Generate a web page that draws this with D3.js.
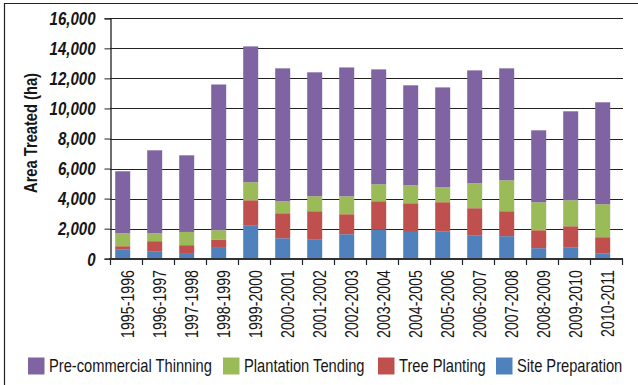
<!DOCTYPE html>
<html><head><meta charset="utf-8">
<script src="https://cdn.jsdelivr.net/npm/d3@7"></script>
<style>
html,body{margin:0;padding:0;background:#fff;}
svg{display:block;}
text{font-family:"Liberation Sans",Arial,sans-serif;fill:#161616;}
</style></head>
<body>
<script>
const categories = ["1995-1996","1996-1997","1997-1998","1998-1999","1999-2000","2000-2001","2001-2002","2002-2003","2003-2004","2004-2005","2005-2006","2006-2007","2007-2008","2008-2009","2009-2010","2010-2011"];
const sitePreparation = [630,500,320,720,2230,1360,1300,1630,1960,1780,1830,1565,1500,700,765,365];
const treePlanting    = [200,665,580,530,1660,1665,1860,1330,1865,1910,1930,1795,1660,1195,1395,1065];
const plantationTending = [865,530,880,645,1200,795,1000,1195,1130,1200,995,1660,2060,1865,1730,2195];
const precommercialThinning = [4125,5520,5100,9700,9040,8850,8245,8575,7645,6650,6645,7515,7450,4785,5920,6785];
const yTicks = [0,2000,4000,6000,8000,10000,12000,14000,16000];
const seriesNames = ["Site Preparation","Tree Planting","Plantation Tending","Pre-commercial Thinning"];
const seriesColors = ["#4F81BD","#C0504D","#9BBB59","#8064A2"];
const legendOrder = ["Pre-commercial Thinning","Plantation Tending","Tree Planting","Site Preparation"];

const W=638,H=385;
const svg=d3.select("body").append("svg").attr("width",W).attr("height",H);

// frame border (top and left visible)
svg.append("line").attr("x1",4).attr("x2",W).attr("y1",3.5).attr("y2",3.5).attr("stroke","#222").attr("stroke-width",1.2);
svg.append("line").attr("x1",4.5).attr("x2",4.5).attr("y1",3).attr("y2",H).attr("stroke","#222").attr("stroke-width",1.2);

const x=d3.scaleBand().domain(categories).range([110,622]).padding(0);
const y=d3.scaleLinear().domain([0,16000]).range([258.7,18.3]);

function measure(sample,size,weight,style){
  const t=svg.append("text").attr("font-size",size).attr("font-weight",weight).attr("font-style",style).text(sample);
  const L=t.node().getComputedTextLength(); t.remove(); return L;
}

// gridlines
svg.append("g").selectAll("line").data(yTicks.filter(d=>d>0)).join("line")
  .attr("x1",110).attr("x2",623).attr("y1",d=>Math.round(y(d))+0.5).attr("y2",d=>Math.round(y(d))+0.5)
  .attr("stroke","#222").attr("stroke-width",1);

// stacked bars
const table=categories.map((c,i)=>({cat:c,"Site Preparation":sitePreparation[i],"Tree Planting":treePlanting[i],"Plantation Tending":plantationTending[i],"Pre-commercial Thinning":precommercialThinning[i]}));
const stack=d3.stack().keys(seriesNames)(table);
const bw=15;
svg.append("g").selectAll("g").data(stack).join("g").attr("fill",(d,i)=>seriesColors[i])
  .selectAll("rect").data(d=>d).join("rect")
  .attr("x",d=>x(d.data.cat)+5.2).attr("width",bw)
  .attr("y",d=>y(d[1])).attr("height",d=>y(d[0])-y(d[1]));

// y axis
const yAxis=d3.axisLeft(y).tickValues(yTicks).tickSize(6).tickPadding(8).tickFormat(d3.format(","));
const gy=svg.append("g").attr("transform","translate(110.5,0)").call(yAxis);
gy.select(".domain").attr("stroke","#222").attr("stroke-width",1.3);
gy.selectAll(".tick line").attr("stroke","#222");
const ky=46/measure("16,000",17.5,"bold","italic");
gy.selectAll(".tick text").attr("font-size",17.5).attr("font-weight","bold").attr("font-style","italic")
  .attr("fill","#111").attr("dy","0.36em").attr("x",0)
  .attr("transform",`translate(-15,0) scale(${ky},1)`);

// x axis
const xAxis=d3.axisBottom(x).tickSize(0).tickFormat(d=>d);
const gx=svg.append("g").attr("transform","translate(0,259)").call(xAxis);
gx.select(".domain").remove();
svg.append("line").attr("x1",109).attr("x2",623).attr("y1",259).attr("y2",259).attr("stroke","#333").attr("stroke-width",2);
svg.append("g").selectAll("line").data(d3.range(categories.length+1)).join("line")
  .attr("x1",i=>110+i*x.step()+0.5).attr("x2",i=>110+i*x.step()+0.5).attr("y1",259).attr("y2",265)
  .attr("stroke","#222").attr("stroke-width",1.2);
const kx=68/measure("1995-1996",18.5,"normal","normal");
gx.selectAll(".tick text").attr("font-size",18.5)
  .attr("text-anchor","end").attr("x",0).attr("y",0).attr("dy","0.35em")
  .attr("transform",`rotate(-90) translate(-11,0) scale(${kx},1)`)
  .attr("fill","#111");
gx.selectAll(".tick").attr("transform",d=>`translate(${x(d)+x.bandwidth()/2+2},0)`);

// y title
const kt=120/measure("Area Treated (ha)",17.5,"bold","normal");
svg.append("text").attr("transform",`translate(37,133) rotate(-90) scale(${kt},1)`).attr("text-anchor","middle")
  .attr("font-size",17.5).attr("font-weight","bold").attr("fill","#111")
  .text("Area Treated (ha)");

// legend
const legX=[28,223,378,496];
const kl=163/measure("Pre-commercial Thinning",19,"normal","normal");
const lg=svg.append("g");
legendOrder.forEach((name,i)=>{
  const col=seriesColors[seriesNames.indexOf(name)];
  lg.append("rect").attr("x",legX[i]).attr("y",357.5).attr("width",16.5).attr("height",17).attr("fill",col);
  lg.append("text").attr("transform",`translate(${legX[i]+21},372) scale(${kl},1)`).attr("font-size",19)
    .attr("fill","#111").text(name);
});
</script>
</body></html>
